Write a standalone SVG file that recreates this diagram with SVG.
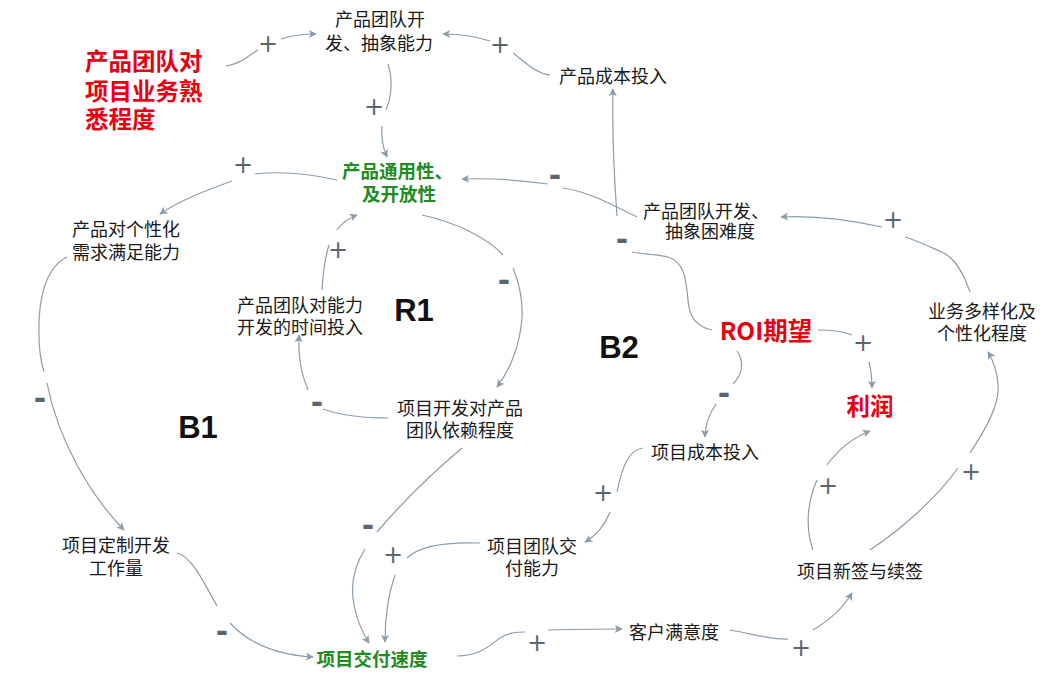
<svg xmlns="http://www.w3.org/2000/svg" width="1049" height="683" viewBox="0 0 1049 683">
<style>
.t{font-family:"Noto Sans CJK SC","Noto Sans",sans-serif;font-size:18px;fill:#1a1a1a;text-anchor:middle;dominant-baseline:central}
.st{text-anchor:start}
.g{font-weight:bold;fill:#228b22;font-size:18.5px}
.r{font-weight:bold;fill:#e60012;font-size:23.5px}
.loop{font-family:"Liberation Sans","Noto Sans",sans-serif;font-weight:bold;font-size:31px;fill:#111;text-anchor:middle;dominant-baseline:central}
.p{font-family:"DejaVu Sans",sans-serif;font-size:24px;fill:#5b6570;text-anchor:middle;dominant-baseline:central}
.m{font-family:"DejaVu Sans",sans-serif;font-weight:bold;font-size:30px;fill:#5b6570;text-anchor:middle;dominant-baseline:central}
.c{fill:none;stroke:#8b9cac;stroke-width:1.2;marker-end:url(#arr)}
</style>
<defs>
<marker id="arr" viewBox="0 0 10 10" refX="9" refY="5" markerWidth="9" markerHeight="8" markerUnits="userSpaceOnUse" orient="auto">
<path d="M0,0 L10,5 L0,10 L2.5,5 z" fill="#8b9cac"/>
</marker>
</defs>
<rect width="1049" height="683" fill="#fff"/>

<g id="connectors">
<path class="c" d="M226,66 C240,64 248,56 258,50 M281,39 C293,35 303,34 316,34"/>
<path class="c" d="M550,75 C535,73 525,62 513,53 M490,41 C475,36 460,34 443,34"/>
<path class="c" d="M388,64 C393,80 392,95 386,110 M382,126 C381,138 383,148 387,157"/>
<path class="c" d="M712,330 C697,327 689,318 688,300 C686,278 684,262 668,257 C655,254 642,254 632,252 M617,216 C614,175 612,130 613,89"/>
<path class="c" d="M637,217 C612,205 590,192 563,188 M548,184 C520,180 490,178 462,179"/>
<path class="c" d="M970,292 C963,272 955,258 942,252 C928,246 915,240 905,237 M882,227 C850,220 815,215 781,217"/>
<path class="c" d="M818,330 C832,330 842,331 852,335 M869,362 C871,370 872,378 872,388"/>
<path class="c" d="M737,351 C745,362 742,375 733,384 M716,404 C709,414 705,425 705,437"/>
<path class="c" d="M643,448 C628,450 622,468 617,492 M610,512 C605,525 597,535 585,542"/>
<path class="c" d="M337,180 C310,174 280,171 255,174 M232,181 C210,189 180,200 160,214"/>
<path class="c" d="M67,257 C45,268 38,300 39,335 C39,350 41,362 44,372 M47,383 C58,440 90,495 124,530"/>
<path class="c" d="M177,553 C192,556 205,585 217,606 M230,623 C250,645 280,655 313,657"/>
<path class="c" d="M322,290 C323,272 325,258 329,245 M337,230 C342,223 349,218 357,215"/>
<path class="c" d="M422,215 C455,222 488,238 503,255 M513,268 C520,285 523,300 522,318 C520,345 510,370 497,387"/>
<path class="c" d="M388,418 C365,418 340,415 323,409 M308,390 C302,375 298,360 299,335"/>
<path class="c" d="M462,448 C430,475 400,505 377,532 M365,549 C355,565 350,585 354,605 C357,620 362,632 369,643"/>
<path class="c" d="M480,543 C450,542 420,545 407,558 M395,575 C388,595 385,620 385,642"/>
<path class="c" d="M457,656 C480,656 490,645 500,638 C510,632 518,632 525,632 M548,630 C575,629 600,629 622,629"/>
<path class="c" d="M730,630 C750,633 770,640 788,639 M813,630 C830,620 843,608 852,593"/>
<path class="c" d="M813,550 C806,530 806,505 817,480 M827,465 C838,450 852,438 870,431"/>
<path class="c" d="M870,550 C900,530 935,500 958,468 M970,453 C985,430 1000,405 998,385 C997,370 993,360 988,352"/>
</g>

<g id="signs">
<text class="p" x="268" y="44">+</text>
<text class="p" x="500" y="45">+</text>
<text class="p" x="374" y="107">+</text>
<text class="p" x="243" y="165">+</text>
<text class="m" x="555" y="175">-</text>
<text class="m" x="622" y="239">-</text>
<text class="p" x="893" y="220">+</text>
<text class="p" x="338" y="250">+</text>
<text class="m" x="504" y="280">-</text>
<text class="p" x="863" y="343">+</text>
<text class="m" x="724" y="393">-</text>
<text class="m" x="40" y="398">-</text>
<text class="m" x="317" y="402">-</text>
<text class="p" x="603" y="493">+</text>
<text class="m" x="368" y="525">-</text>
<text class="p" x="393" y="555">+</text>
<text class="m" x="222" y="631">-</text>
<text class="p" x="537" y="643">+</text>
<text class="p" x="801" y="648">+</text>
<text class="p" x="828" y="486">+</text>
<text class="p" x="971" y="472">+</text>
</g>

<g id="n-familiarity"><text class="t r st"><tspan x="85" y="60">产品团队对</tspan><tspan x="85" y="90">项目业务熟</tspan><tspan x="85" y="118">悉程度</tspan></text></g>
<g id="n-abstraction-ability"><text class="t"><tspan x="380" y="18">产品团队开</tspan><tspan x="379" y="42">发、抽象能力</tspan></text></g>
<g id="n-product-cost"><text class="t" x="613" y="75">产品成本投入</text></g>
<g id="n-generality"><text class="t g st"><tspan x="342" y="170">产品通用性、</tspan><tspan x="362" y="193">及开放性</tspan></text></g>
<g id="n-abstraction-difficulty"><text class="t st"><tspan x="643" y="210">产品团队开发、</tspan><tspan x="665" y="230">抽象困难度</tspan></text></g>
<g id="n-personalization"><text class="t"><tspan x="126" y="228">产品对个性化</tspan><tspan x="126" y="251">需求满足能力</tspan></text></g>
<g id="n-time-investment"><text class="t"><tspan x="300" y="304">产品团队对能力</tspan><tspan x="300" y="326">开发的时间投入</tspan></text></g>
<g id="n-dependency"><text class="t"><tspan x="460" y="407">项目开发对产品</tspan><tspan x="460" y="429">团队依赖程度</tspan></text></g>
<g id="n-custom-workload"><text class="t"><tspan x="116" y="544">项目定制开发</tspan><tspan x="116" y="567">工作量</tspan></text></g>
<g id="n-delivery-speed"><text class="t g" x="372" y="658">项目交付速度</text></g>
<g id="n-delivery-ability"><text class="t"><tspan x="532" y="545">项目团队交</tspan><tspan x="532" y="567">付能力</tspan></text></g>
<g id="n-project-cost"><text class="t" x="705" y="451">项目成本投入</text></g>
<g id="n-satisfaction"><text class="t" x="674" y="631">客户满意度</text></g>
<g id="n-signing"><text class="t" x="860" y="570">项目新签与续签</text></g>
<g id="n-profit"><text class="t r" x="870" y="405">利润</text></g>
<g id="n-roi"><text class="t r" x="766" y="329" style="font-size:24.5px">ROI期望</text></g>
<g id="n-diversity"><text class="t"><tspan x="982" y="310">业务多样化及</tspan><tspan x="982" y="332">个性化程度</tspan></text></g>

<g id="loops">
<text class="loop" x="414" y="310">R1</text>
<text class="loop" x="198" y="427">B1</text>
<text class="loop" x="619" y="347">B2</text>
</g>
</svg>
